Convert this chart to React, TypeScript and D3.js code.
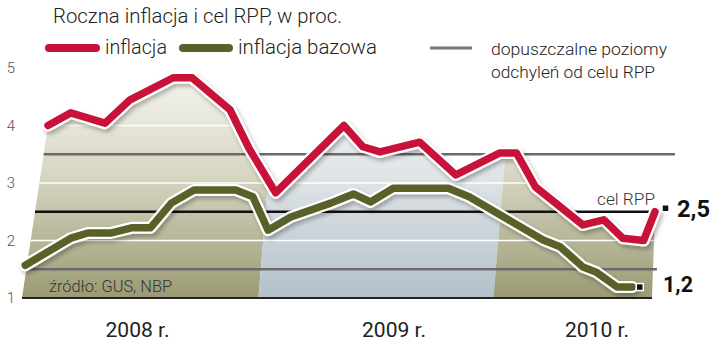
import React from "react";
import * as d3 from "d3";

// ---- data (x in months from Jan 2008, values in %) ----
const inflationT = [0, 1.2, 3.0, 4.3, 6.6, 7.6, 9.6, 10.6, 12.0, 15.6, 16.6, 17.5, 19.6, 21.5, 23.8, 24.7, 25.7, 28.2, 29.3, 30.3, 31.4, 32.0];
const inflationV = [4.0, 4.22, 4.04, 4.44, 4.83, 4.83, 4.27, 3.6, 2.83, 4.0, 3.63, 3.54, 3.71, 3.14, 3.52, 3.52, 2.93, 2.27, 2.36, 2.04, 2.0, 2.5];
const coreT = [-1.2, 1.2, 2.1, 3.3, 4.4, 5.4, 6.5, 7.7, 9.9, 10.8, 11.6, 12.8, 14.9, 16.1, 17.0, 18.2, 21.1, 22.2, 26.1, 27.0, 28.2, 28.9, 30.0, 30.8];
const coreV = [1.57, 2.04, 2.13, 2.13, 2.22, 2.22, 2.65, 2.88, 2.88, 2.76, 2.18, 2.41, 2.65, 2.81, 2.67, 2.91, 2.91, 2.76, 2.01, 1.89, 1.54, 1.45, 1.19, 1.19];
const yTicks = [1, 2, 3, 4, 5];
const whiteLevels = [2, 3, 4];
const bandLevels = [1.5, 3.5];
const targetLevel = 2.5;
const yearLabels = ["2008 r.", "2009 r.", "2010 r."];
const yearLabelT = [4.72, 18.24, 28.94];
const yearBoundT = [-3, 11.07, 23.46, 36];
const lastInflLabel = "2,5";
const lastCoreLabel = "1,2";
const areaStartT = -1.37;
const areaEndT = 31.84;

const FONT = "Roboto, 'Liberation Sans', sans-serif";

export default function App() {
  const x = d3.scaleLinear().domain([0, 32]).range([48, 655]);
  const y = d3.scaleLinear().domain([1, 5]).range([298, 68]);

  const infl = inflationT.map((t, i) => [x(t), y(inflationV[i])] as [number, number]);
  const core = coreT.map((t, i) => [x(t), y(coreV[i])] as [number, number]);
  const line = d3.line<[number, number]>().curve(d3.curveLinear);

  const areaPts: [number, number][] = [...infl, [x(areaEndT), y(1)], [x(areaStartT), y(1)]];
  const areaPath = line(areaPts) + "Z";

  // left (slanted) edge of the area
  const lx0 = x(areaStartT), ly0 = y(1);
  const lx1 = x(inflationT[0]), ly1 = y(inflationV[0]);
  const leftX = (v: number) => {
    const yy = y(v);
    return lx0 + ((ly0 - yy) / (ly0 - ly1)) * (lx1 - lx0);
  };

  const slant = 0.085;
  const topY = 50;
  const bandPolys = yearLabels.map((_, i) => {
    const a = x(yearBoundT[i]);
    const b = x(yearBoundT[i + 1]);
    const dx = slant * (y(1) - topY);
    return `M${a},${y(1) + 5}L${a + dx},${topY}L${b + dx},${topY}L${b},${y(1) + 5}Z`;
  });
  const bandFill = ["url(#gOlive)", "url(#gBlue)", "url(#gOlive)"];

  const lastI = infl[infl.length - 1];
  const lastC = core[core.length - 1];

  return (
    <svg width={720} height={355} style={{ position: "absolute", left: 0, top: 0, background: "#fff" }} fontFamily={FONT}>
      <defs>
        <linearGradient id="gOlive" gradientUnits="userSpaceOnUse" x1={0} y1={y(4.85)} x2={0} y2={y(1)}>
          <stop offset="0" stopColor="#f5f4ee" />
          <stop offset="0.45" stopColor="#d6d5c2" />
          <stop offset="1" stopColor="#9b9a73" />
        </linearGradient>
        <linearGradient id="gBlue" gradientUnits="userSpaceOnUse" x1={0} y1={y(4.85)} x2={0} y2={y(1)}>
          <stop offset="0" stopColor="#f6f7f8" />
          <stop offset="0.45" stopColor="#dfe4e7" />
          <stop offset="1" stopColor="#b3c1c9" />
        </linearGradient>
        <clipPath id="areaClip">
          <path d={areaPath} />
        </clipPath>
        <filter id="shadow" x="-5%" y="-10%" width="115%" height="130%">
          <feDropShadow dx="2" dy="3" stdDeviation="2" floodColor="#000" floodOpacity="0.28" />
        </filter>
      </defs>

      {/* title & legend */}
      <text x={53} y={23} fontSize={20} fontWeight={300} fill="#222" textLength={289} lengthAdjust="spacingAndGlyphs">
        Roczna inflacja i cel RPP, w proc.
      </text>
      <line x1={49} x2={96} y1={48} y2={48} stroke="#c9123a" strokeWidth={8} strokeLinecap="round" />
      <text x={105} y={54} fontSize={20} fontWeight={300} fill="#222" textLength={62} lengthAdjust="spacingAndGlyphs">inflacja</text>
      <line x1={183} x2={229} y1={48} y2={48} stroke="#5a6128" strokeWidth={8} strokeLinecap="round" />
      <text x={238} y={54} fontSize={20} fontWeight={300} fill="#222" textLength={139} lengthAdjust="spacingAndGlyphs">inflacja bazowa</text>
      <line x1={430} x2={472} y1={48} y2={48} stroke="#777" strokeWidth={3} />
      <text x={491} y={55} fontSize={16} fontWeight={300} fill="#222" textLength={176} lengthAdjust="spacingAndGlyphs">dopuszczalne poziomy</text>
      <text x={491} y={78} fontSize={16} fontWeight={300} fill="#222" textLength={164} lengthAdjust="spacingAndGlyphs">odchyleń od celu RPP</text>

      {/* y labels */}
      {yTicks.map((v) => (
        <text key={v} x={11} y={y(v) + 5} fontSize={15} fontWeight={300} fill="#555" textAnchor="middle">{v}</text>
      ))}

      {/* area with year bands */}
      <g clipPath="url(#areaClip)">
        {bandPolys.map((d, i) => (
          <path key={i} d={d} fill={bandFill[i]} />
        ))}
        {whiteLevels.map((v) => (
          <line key={v} x1={0} x2={720} y1={y(v)} y2={y(v)} stroke="#fff" strokeWidth={1.6} />
        ))}
      </g>

      {/* tolerance bands, target, base */}
      <line x1={leftX(3.5)} x2={x(33.05)} y1={y(3.5)} y2={y(3.5)} stroke="#6a6a6a" strokeWidth={2.6} />
      <line x1={leftX(1.5)} x2={x(32.1)} y1={y(1.5)} y2={y(1.5)} stroke="#6a6a6a" strokeWidth={2.6} />
      <line x1={leftX(targetLevel)} x2={x(32.0)} y1={y(targetLevel)} y2={y(targetLevel)} stroke="#111" strokeWidth={2.6} />
      <line x1={leftX(1)} x2={x(areaEndT)} y1={y(1)} y2={y(1)} stroke="#222" strokeWidth={2} />

      <text x={49} y={292} fontSize={16} fontWeight={300} fill="#333" textLength={123} lengthAdjust="spacingAndGlyphs">źródło: GUS, NBP</text>
      <text x={597} y={205} fontSize={16} fontWeight={300} fill="#333" textLength={58} lengthAdjust="spacingAndGlyphs">cel RPP</text>

      {/* core inflation */}
      <path d={line(core)!} fill="none" stroke="#fff" strokeWidth={12} strokeLinejoin="round" strokeLinecap="round" filter="url(#shadow)" />
      <path d={line(core)!} fill="none" stroke="#5a6128" strokeWidth={7.5} strokeLinejoin="round" strokeLinecap="round" />
      {/* inflation */}
      <path d={line(infl)!} fill="none" stroke="#fff" strokeWidth={12} strokeLinejoin="round" strokeLinecap="round" filter="url(#shadow)" />
      <path d={line(infl)!} fill="none" stroke="#c9123a" strokeWidth={7.5} strokeLinejoin="round" strokeLinecap="round" />

      {/* end markers and labels */}
      <rect x={lastI[0] + 7} y={lastI[1] - 7} width={7} height={7} fill="#111" stroke="#fff" strokeWidth={1.5} />
      <text x={677} y={217} fontSize={23} fontWeight={700} fill="#111" textLength={33} lengthAdjust="spacingAndGlyphs">{lastInflLabel}</text>
      <rect x={lastC[0] + 4} y={lastC[1] - 3.5} width={7} height={7} fill="#111" stroke="#fff" strokeWidth={1.5} />
      <text x={663} y={292} fontSize={22} fontWeight={700} fill="#111" textLength={30} lengthAdjust="spacingAndGlyphs">{lastCoreLabel}</text>

      {/* year labels */}
      {yearLabels.map((s, i) => (
        <text key={s} x={x(yearLabelT[i])} y={337} fontSize={21} fontWeight={400} fill="#222" textAnchor="middle" textLength={64} lengthAdjust="spacingAndGlyphs">{s}</text>
      ))}
    </svg>
  );
}
